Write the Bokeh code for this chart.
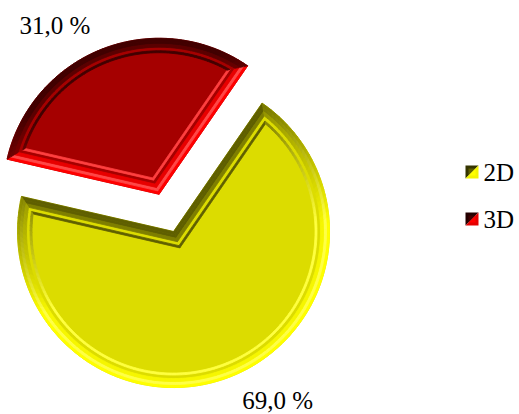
import numpy as np
from bokeh.plotting import figure
from bokeh.models import Range1d, ColumnDataSource
from bokeh.embed import file_html
from bokeh.resources import INLINE
from bokeh.core.properties import value

# ---- data ----
categories = ["2D", "3D"]
percent = [69.0, 31.0]
labels = ["69,0 %", "31,0 %"]
face_colors = [(220, 220, 0), (165, 0, 0)]
dark_colors = [(95, 95, 0), (65, 0, 0)]
bright_colors = [(255, 255, 0), (255, 0, 0)]

# ---- layout ----
W, H = 519, 414
CX, CY = 165.8, 201.6   # pie centre (pixel units, y up)
R = 156.0
EXPLODE = 20.0
START = 55.4            # degrees, slices go clockwise from here
LIGHT = -72.0           # direction of light (deg)
FONT = "Liberation Serif"
FSIZE = "25px"


def hexc(c):
    c = [int(max(0, min(255, round(v)))) for v in c]
    return "#%02x%02x%02x" % tuple(c)


def mix(a, b, t):
    return tuple(a[i] + (b[i] - a[i]) * t for i in range(3))


def d2(a):
    r = np.radians(a)
    return np.array([np.cos(r), np.sin(r)])


p = figure(width=W, height=H, output_backend="svg", toolbar_location=None,
           x_range=Range1d(0, W), y_range=Range1d(0, H), min_border=0,
           x_axis_location=None, y_axis_location=None)
p.grid.visible = False
p.outline_line_color = None
p.background_fill_color = "white"
p.border_fill_color = "white"

xs, ys, cols = [], [], []
base_xs, base_ys, base_cols = [], [], []
lab_x, lab_y, lab_t = [], [], []

cum = 0.0
for i, cat in enumerate(categories):
    span = 360.0 * percent[i] / 100.0
    a_hi = START - cum
    a_lo = a_hi - span
    cum += span
    mid = (a_lo + a_hi) / 2.0
    c = np.array([CX, CY]) + EXPLODE * d2(mid)
    dark, bright, face = dark_colors[i], bright_colors[i], face_colors[i]
    nseg = int(np.ceil(span / 2.0))

    def outline(d):
        u1, n1 = d2(a_lo), d2(a_lo + 90)
        u2, n2 = d2(a_hi), d2(a_hi - 90)
        if d == 0:
            apex = c.copy()
            s_ang, e_ang = a_lo, a_hi
        else:
            A = np.array([[u1[0], -u2[0]], [u1[1], -u2[1]]])
            b = d * (n2 - n1)
            s, t = np.linalg.solve(A, b)
            apex = c + d * n1 + s * u1
            ss = np.sqrt((R - d) ** 2 - d ** 2)
            dd = np.degrees(np.arctan2(d, ss))
            s_ang, e_ang = a_lo + dd, a_hi - dd
        angs = np.linspace(s_ang, e_ang, nseg + 1)
        arc = [c + (R - d) * d2(a) for a in angs]
        return apex, arc, angs

    def shade(nang, kind):
        t = (1 + np.cos(np.radians(nang - LIGHT))) / 2.0
        s = min(1.0, max(0.0, (t - 0.12) / 0.5))
        base = mix(dark, bright, s)
        if kind == "mid":
            return mix(base, (255, 255, 255), 0.28 * s ** 2)
        if kind == "inner":
            return mix(base, face, 0.25)
        if kind == "groove":
            return mix(base, (255, 255, 255), 0.25 * s ** 2)
        return base

    apex0, arc0, _ = outline(0)
    base_xs.append([apex0[0]] + [q[0] for q in arc0])
    base_ys.append([apex0[1]] + [q[1] for q in arc0])
    base_cols.append(hexc(face))

    bands = [(0, 3, "outer"), (3, 6, "mid"), (6, 9, "inner"), (12.5, 14.5, "groove")]
    for (d0, d1, kind) in bands:
        ap0, ar0, an0 = outline(d0)
        ap1, ar1, an1 = outline(d1)
        quad = [ap0, ar0[0], ar1[0], ap1]
        xs.append([q[0] for q in quad]); ys.append([q[1] for q in quad])
        cols.append(hexc(shade(a_lo - 90, kind)))
        quad = [ap0, ar0[-1], ar1[-1], ap1]
        xs.append([q[0] for q in quad]); ys.append([q[1] for q in quad])
        cols.append(hexc(shade(a_hi + 90, kind)))
        for k in range(nseg):
            quad = [ar0[k], ar0[k + 1], ar1[k + 1], ar1[k]]
            xs.append([q[0] for q in quad]); ys.append([q[1] for q in quad])
            cols.append(hexc(shade((an0[k] + an0[k + 1]) / 2.0, kind)))

    # label outside the slice
    lp = c + (R + 42) * d2(mid + 10.5)
    lab_x.append(lp[0]); lab_y.append(lp[1]); lab_t.append(labels[i])

p.patches(xs=base_xs, ys=base_ys, fill_color=base_cols, line_color=base_cols, line_width=0.8)
src = ColumnDataSource(dict(xs=xs, ys=ys, c=cols))
p.patches(xs="xs", ys="ys", fill_color="c", line_color="c", line_width=0.8, source=src)

p.text(x=lab_x, y=lab_y, text=lab_t, text_font=value(FONT), text_font_size=FSIZE,
       text_align="center", text_baseline="middle", text_color="black")

# ---- legend ----
LX, LY0, LDY, LS = 465.0, H - 171.5, -47.0, 13.0
tx, ty, tt = [], [], []
mxs, mys, mcs = [], [], []
for i, cat in enumerate(categories):
    y = LY0 + i * LDY
    x0, x1 = LX, LX + LS
    yb, yt = y - LS / 2, y + LS / 2
    mxs.append([x0, x1, x0]); mys.append([yt, yt, yb])
    mcs.append(hexc(mix(dark_colors[i], (0, 0, 0), 0.45)))
    mxs.append([x1, x1, x0]); mys.append([yt, yb, yb])
    mcs.append(hexc(mix(bright_colors[i], face_colors[i], 0.3)))
    m = 3.0
    mxs.append([x0 + m, x1 - m, x0 + m]); mys.append([yt - m, yt - m, yb + m])
    mcs.append(hexc(dark_colors[i]))
    mxs.append([x1 - m, x1 - m, x0 + m]); mys.append([yt - m, yb + m, yb + m])
    mcs.append(hexc(bright_colors[i]))
    tx.append(LX + 18); ty.append(y); tt.append(cat)
p.patches(xs=mxs, ys=mys, fill_color=mcs, line_color=None)
p.text(x=tx, y=ty, text=tt, text_font=value(FONT), text_font_size=FSIZE,
       text_align="left", text_baseline="middle", text_color="black")

open("out.html", "w").write(file_html(p, INLINE))
